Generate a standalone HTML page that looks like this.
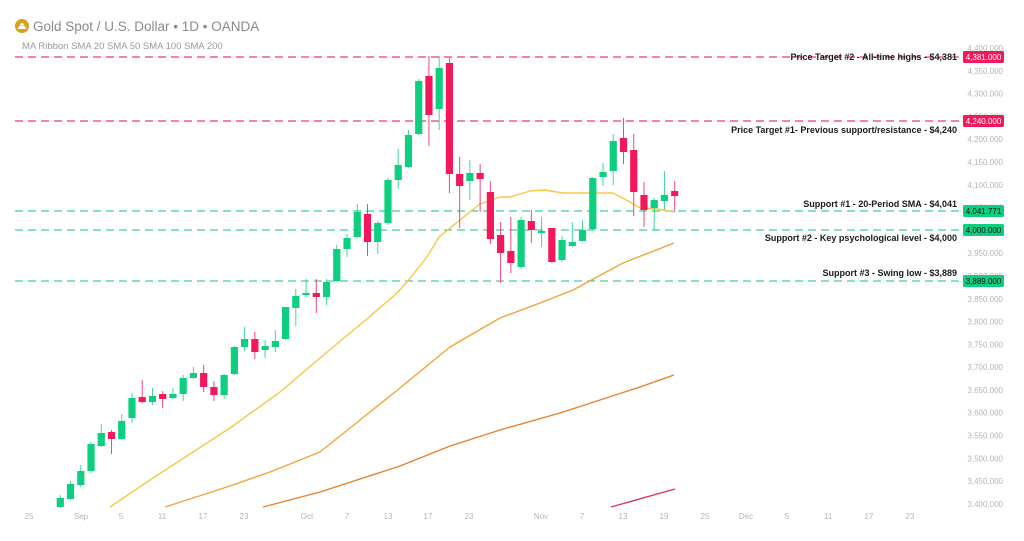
<!DOCTYPE html>
<html><head><meta charset="utf-8"><style>
html,body{margin:0;padding:0;background:#fff;}
svg{display:block;font-family:"Liberation Sans",sans-serif;}
</style></head><body>
<svg id="c" width="1024" height="541" viewBox="0 0 1024 541" xmlns="http://www.w3.org/2000/svg">
<rect width="1024" height="541" fill="#fff"/>
<circle cx="22" cy="26" r="7" fill="#d9a21b"/>
<path d="M17.5 29 L26.5 29 L24.5 26 L19.5 26 Z M19.5 25.5 L24.5 25.5 L23 23 L21 23 Z" fill="#fff"/>
<text x="33" y="31" font-size="13.5" fill="#8a8a8a">Gold Spot / U.S. Dollar • 1D • OANDA</text>
<text x="22" y="49" font-size="9.5" fill="#9a9a9a">MA Ribbon SMA 20 SMA 50 SMA 100 SMA 200</text>
<g id="axis" font-size="8" fill="#b5b5b5" text-anchor="end"></g>
<g id="xaxis" font-size="8" fill="#b5b5b5" text-anchor="middle"></g>
<g stroke-dasharray="8 5" stroke-width="1.3">
<line x1="15" y1="57" x2="962" y2="57" stroke="#f2386e"/>
<line x1="15" y1="121" x2="962" y2="121" stroke="#f2386e"/>
<line x1="15" y1="211" x2="962" y2="211" stroke="#3fd19a"/>
<line x1="15" y1="230" x2="962" y2="230" stroke="#3fd19a"/>
<line x1="15" y1="281" x2="962" y2="281" stroke="#3fd19a"/>
</g>
<g fill="none" stroke-width="1.4" stroke-linejoin="round">
<polyline stroke="#f5c84a" points="110,507 150,480 193,452 230,428 280,392 320,358 368,318 397,293 407,282 427,257 439,237 460,220 480,204 500,197 510,197 530,191 545,190 563,193 613,193 630,202 640,208 657,209 674,212"/>
<polyline stroke="#f0a538" points="165,507 227,487 270,472 320,452 360,420 400,388 450,347 500,318 540,303 573,290 597,277 623,263 674,243"/>
<polyline stroke="#e8802a" points="263,507 320,492 400,466 450,446 500,430 560,413 600,400 640,387 674,375"/>
<polyline stroke="#e0345a" points="611,507 675,489"/>
</g>
<g id="candles"></g>
<g font-size="9" font-weight="bold" fill="#1a1a1a" text-anchor="end">
<text x="957" y="60">Price Target #2 - All-time highs - $4,381</text>
<text x="957" y="133">Price Target #1- Previous support/resistance - $4,240</text>
<text x="957" y="207">Support #1 - 20-Period SMA - $4,041</text>
<text x="957" y="241">Support #2 - Key psychological level - $4,000</text>
<text x="957" y="276">Support #3 - Swing low - $3,889</text>
</g>
<g font-size="8" fill="#fff" text-anchor="middle">
<rect x="963" y="51" width="41" height="12" rx="1.5" fill="#f2185b"/><text x="983.5" y="60">4,381.000</text>
<rect x="963" y="115" width="41" height="12" rx="1.5" fill="#f2185b"/><text x="983.5" y="124">4,240.000</text>
<rect x="963" y="205" width="41" height="12" rx="1.5" fill="#0dcf7f"/><text x="983.5" y="214" fill="#111">4,041.771</text>
<rect x="963" y="224" width="41" height="12" rx="1.5" fill="#0dcf7f"/><text x="983.5" y="233" fill="#111">4,000.000</text>
<rect x="963" y="275" width="41" height="12" rx="1.5" fill="#0dcf7f"/><text x="983.5" y="284" fill="#111">3,889.000</text>
</g>
</svg>
<script>
var NS="http://www.w3.org/2000/svg";
function el(t,a,p){var e=document.createElementNS(NS,t);for(var k in a)e.setAttribute(k,a[k]);if(p)p.appendChild(e);return e;}
// [color, bodyTop, bodyBottom, wickTop, wickBottom]
var C=[
['g',498,507,495,508],['g',484,499,481,500],['g',471,485,465,487],['g',444,471,442,473],['g',433,446,424,447],
['r',432,439,430,454],['g',421,439,414,440],['g',398,418,393,423],['r',397,402,380,403],['g',396,402,388,405],
['r',394,399,391,408],['g',394,398,388,399],['g',378,394,375,401],['g',373,378,367,379],['r',373,387,365,392],
['r',387,395,381,401],['g',375,395,374,399],['g',347,374,346,375],['g',339,347,327,351],['r',339,352,332,359],
['g',346,350,340,358],['g',341,347,330,352],['g',307,339,307,340],['g',296,308,289,326],['g',293,295,279,297],
['r',293,297,279,313],['g',282,297,279,305],['g',249,281,245,282],['g',238,249,234,257],['g',212,237,204,238],
['r',214,242,204,256],['g',223,242,221,254],['g',180,223,178,225],['g',165,180,149,189],['g',135,167,130,168],
['g',81,134,79,135],['r',76,115,56,146],['g',68,109,56,130],['r',63,174,58,193],['r',174,186,157,228],
['g',173,181,160,200],['r',173,179,164,212],['r',192,239,181,244],['r',235,253,222,283],['r',251,263,217,273],
['g',220,267,217,269],['r',221,230,210,243],['g',231,233,217,247],['r',228,262,228,263],['g',240,260,236,262],
['g',242,246,222,247],['g',230,241,220,242],['g',178,229,177,230],['g',172,177,163,186],['g',141,171,134,185],
['r',138,152,118,164],['r',150,192,134,216],['r',195,210,182,227],['g',200,208,198,230],['g',195,201,171,210],
['r',191,196,181,212]];
var g=document.getElementById('candles');
C.forEach(function(c,i){
 var x=60.3+i*10.24, col=c[0]=='g'?'#0dcf7f':'#f2185b';
 el('line',{x1:x,x2:x,y1:c[3],y2:c[4],stroke:col,'stroke-width':1,opacity:0.8},g);
 el('rect',{x:x-3.6,y:c[1],width:7.2,height:Math.max(1.5,c[2]-c[1]),fill:col},g);
});
var ax=document.getElementById('axis');
for(var p=4400;p>=3400;p-=50){
 var y=121+(4240-p)*0.4558;
 var t=el('text',{x:1003,y:y+3},ax);
 t.textContent=(p/1000|0)+','+String(p%1000).padStart(3,'0')+'.000';
}
var xa=document.getElementById('xaxis');
[[29,'25'],[81,'Sep'],[121,'5'],[162,'11'],[203,'17'],[244,'23'],[307,'Oct'],[347,'7'],[388,'13'],[428,'17'],[469,'23'],[541,'Nov'],[582,'7'],[623,'13'],[664,'19'],[705,'25'],[746,'Dec'],[787,'5'],[828,'11'],[869,'17'],[910,'23']].forEach(function(a){
 var t=el('text',{x:a[0],y:519},xa);t.textContent=a[1];
});
</script>
</body></html>
